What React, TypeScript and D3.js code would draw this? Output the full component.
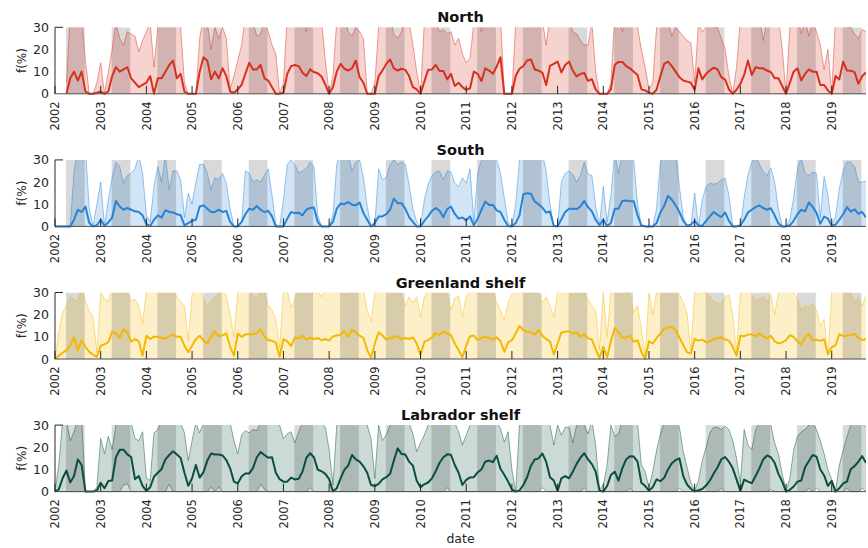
import React, { useEffect, useRef } from 'react';
import * as d3 from 'd3';

// monthly values, Jan 2002 .. Oct 2019 (one row per year)
const northMean = [
  null, null, null, 0, 7, 10, 6, 10, 1, 0, 0, 0.5,
  1, 0, 1, 8, 12, 10, 11, 12, 7, 5, 3, 4,
  5, 8, 0, 7, 7, 10, 13, 15, 7, 9, 1, 0,
  0, 0, 10, 16.5, 15, 6.5, 10, 7, 11.5, 8, 1, 0.5,
  2, 4, 9, 14, 11, 11, 13, 7, 6, 3, 0, 0,
  0.5, 9, 12.5, 13, 12.5, 9.5, 8, 11, 9.8, 9.3, 7.8, 4.2,
  0, 3, 10, 13.5, 11.3, 10.5, 11.5, 15, 7.5, 5, 0, 0,
  0, 8, 10.5, 13.5, 15.5, 11.5, 10.5, 11.3, 10.8, 8, 3, 2,
  0, 5.5, 10.8, 11, 13, 10.3, 10.3, 6.5, 9, 3.5, 5, 3,
  1.8, 2.5, 10, 9, 5.8, 11.5, 10.5, 9, 12.3, 16.5, 0, 0,
  0, 8, 11.3, 12.5, 15, 15.5, 11, 10.5, 9.6, 4, 12.6, 13.5,
  14.5, 9.6, 13, 14.5, 10.5, 7.8, 9, 9.4, 5.8, 6.6, 2, 0,
  0, 0, 2, 13, 14.4, 14.4, 12.5, 11.5, 10, 8.5, 2, 1.5,
  0.5, 0, 1.8, 8, 13.5, 14.5, 12.5, 10, 7.5, 6, 5.5, 5,
  1.8, 11.5, 6.5, 9, 10.5, 11.8, 11, 7.5, 6.4, 2, 0, 1.8,
  4.5, 8.5, 15, 8.5, 12, 11.5, 11.5, 10.5, 9.8, 7, 7, 3.5,
  0, 5, 10, 11.5, 6, 9, 11, 10, 10, 4, 4, 1.5,
  0, 8, 6.5, 14.5, 10.5, 10.4, 9.8, 4.5, 8, 9.6,
];
const northUpper = [
  null, null, null, 5, 35, 40, 40, 35, 15, 0, 0, 5,
  14, 0, 10, 20, 32, 25, 22, 28, 27, 26, 19, 24,
  28, 32, 12, 30, 33, 35, 35, 35, 35, 30, 5, 0,
  0, 0, 25, 35, 32, 20, 30, 25, 30, 25, 2, 8,
  15, 22, 35, 35, 32, 26, 27, 33, 28, 22, 18, 0,
  5, 35, 35, 35, 35, 35, 28, 35, 35, 35, 33, 15,
  0, 8, 33, 35, 35, 28, 26, 30, 28, 25, 0, 0,
  5, 30, 35, 35, 35, 27, 25, 28, 35, 32, 22, 10,
  0, 32, 35, 35, 32, 28, 29, 27, 28, 22, 25, 18,
  14, 16, 32, 35, 28, 35, 35, 30, 35, 35, 0, 0,
  0, 32, 35, 35, 35, 35, 35, 30, 33, 22, 35, 35,
  35, 35, 35, 35, 28, 27, 24, 22, 22, 32, 10, 0,
  0, 0, 5, 35, 35, 28, 33, 35, 35, 30, 20, 12,
  2, 5, 30, 35, 35, 33, 26, 30, 28, 26, 24, 23,
  5, 32, 28, 30, 33, 30, 30, 25, 20, 8, 0, 12,
  33, 35, 35, 35, 35, 35, 24, 33, 35, 35, 35, 20,
  0, 30, 35, 35, 27, 33, 26, 33, 28, 22, 11, 20,
  0, 35, 35, 35, 30, 30, 27, 25, 29, 28,
];

const southMean = [
  0, 0, 0, 0, 0, 3, 7.5, 6.5, 9, 1.5, 0, 0.5,
  3, 0.3, 1.8, 4, 11.5, 9, 7.5, 8.3, 7.5, 6.8, 6.5, 5,
  1, 0.2, 3, 5, 4, 7.3, 6.5, 6.3, 5.5, 5, 0.5, 1.5,
  2.5, 3, 9, 9.5, 8, 6.5, 6.5, 7.6, 6.5, 7, 2, 0,
  0, 2, 5.5, 8, 7.5, 9.2, 7.5, 6.5, 7, 4.5, 0, 0,
  0, 3.5, 6.5, 6, 6.2, 5, 7.5, 8.3, 8.5, 2, 0, 0,
  0, 2, 8, 10.3, 10, 11, 9.8, 9.5, 10.8, 6, 3, 0,
  1.5, 4.5, 4.5, 5.5, 7.5, 12.5, 10.5, 10.5, 8, 4.2, 2, 0,
  0, 2.5, 4.5, 7, 8.3, 7, 4.2, 7.8, 9, 5.6, 3.5, 4,
  2.7, 4.5, 0.5, 3.5, 7.5, 11.2, 9.7, 9.7, 7.2, 6.5, 3, 0.2,
  0, 1.5, 5, 14.5, 15, 14.7, 11.2, 10, 8.5, 6.2, 6.7, 0.3,
  0, 3.2, 6.5, 8, 8, 7.8, 9, 11.5, 8.7, 6.8, 3, 0.5,
  3, 0.2, 1.5, 8, 8, 11.5, 11.7, 11.4, 11.3, 5, 0.5, 0,
  0, 0, 1.5, 6.3, 9.3, 13.8, 12, 9.5, 6.5, 2.5, 0.3, 0.8,
  2.5, 0.5, 0.2, 2.5, 4.5, 6.5, 5.2, 4.2, 6.3, 2.5, 0, 0,
  0.5, 3, 6.3, 7.5, 8.7, 9.5, 8.3, 7.5, 8.2, 5, 1.3, 0,
  0, 0.5, 2.5, 5.5, 7.5, 6.8, 10.8, 8.8, 6, 1.2, 4.4, 3.5,
  0.3, 0.8, 3, 5.5, 8.7, 6.7, 7.7, 5.7, 6.5, 4,
];
const southUpper = [
  0, 0, 0, 0, 0, 25, 35, 35, 35, 8, 0, 10,
  20, 0, 12, 22, 29, 27, 19.5, 23, 24, 26, 32, 24,
  5, 2, 18, 27, 20, 32, 16.5, 25, 25, 21, 4, 15,
  10, 20, 28, 28, 24, 16.5, 22, 21, 24, 19.5, 8, 0,
  0, 2, 25, 24, 20, 21, 20, 23, 26, 14, 1, 0,
  12, 28, 30, 28, 24, 25, 26, 29, 27, 5, 0, 0,
  0, 5, 28, 35, 35, 33, 25, 29, 30, 22, 9, 0,
  1, 26, 21, 22, 28, 30, 28, 29, 28, 19, 8, 2,
  0, 12, 19, 23, 24.5, 25, 21, 25, 24.5, 19.5, 18, 22,
  19.5, 26, 2, 24, 30, 35, 35, 35, 30, 24, 13, 2,
  0, 10, 30, 35, 35, 35, 35, 35, 33, 25, 10, 0,
  0, 20, 24, 25, 23.5, 20, 23, 29, 23.5, 23, 9, 0.5,
  18, 2, 14, 33, 24, 33, 35, 35, 30, 10, 0.5, 0,
  0, 0, 8, 29, 35, 35, 35, 33, 18, 4.5, 0, 0,
  15, 0, 12, 18, 19.5, 19, 19.5, 21, 21.8, 14, 0.5, 0,
  0, 13, 23, 29, 32, 28, 24.8, 23, 26.5, 20, 8, 0,
  0, 3, 13, 26, 31, 24, 23, 24.5, 24, 4, 22.5, 14,
  0.3, 4.5, 17, 25, 29, 29, 27, 20, 20, 20.5,
];

const greenlandMean = [
  0, 1.5, 2.8, 4, 6, 10, 4, 8.5, 5.5, 3.2, 2, 1,
  6, 6.6, 7.6, 12.3, 11.5, 9.5, 13.5, 12, 7.8, 9, 8, 1.5,
  10.5, 9, 10.1, 9.9, 9.5, 9.3, 10.3, 11, 10, 10, 6, 3,
  6, 9, 10.5, 8.3, 7, 10, 12.5, 10.3, 10.7, 11.5, 5.5, 1.5,
  11.5, 10, 11.1, 11.3, 11.1, 11.6, 13.3, 10, 8.6, 8.2, 7.5, 1,
  9, 8, 5.8, 9.7, 9.3, 10.5, 8.8, 9.6, 9, 9.5, 8.4, 9,
  8.3, 10.2, 10.6, 11, 12.6, 10, 13.3, 12, 10.5, 9.5, 4, 0.5,
  7, 12, 10.6, 8.8, 9.3, 9.8, 10.4, 8.8, 9.5, 9, 9.7, 7,
  1.8, 7.8, 8.5, 9.7, 11.6, 10.8, 12.4, 11.5, 10.8, 7, 4, 0.8,
  6, 10.3, 10.6, 8.5, 9.5, 10, 9.6, 8.6, 9.8, 8, 3.2, 7.5,
  8.5, 11.5, 14.9, 13, 12.3, 12, 11, 13, 10.5, 9, 8, 2,
  7, 12, 12.3, 12.5, 11.5, 12, 10, 11.2, 9.3, 8.8, 4.3, 0.5,
  5.5, 0.8, 8, 14, 12, 9.5, 9.7, 10.5, 7.8, 8.5, 3.3, 0,
  8, 7, 9.5, 11.4, 13.6, 14.2, 14.5, 13, 9.7, 6.3, 3, 2.5,
  9, 8.3, 8.7, 7.6, 8, 9, 9.4, 9.8, 8.8, 8.3, 5.5, 1.5,
  10.5, 10.3, 11, 11, 10.2, 11.5, 10.2, 9.3, 10.5, 8, 7, 7.5,
  8.5, 10.7, 10, 8, 6.4, 9.8, 11.3, 8.3, 8.7, 8.2, 8.9, 2,
  5.3, 6.2, 11.2, 10.3, 10.6, 10.8, 11.3, 9.5, 8.5, 9,
];
const greenlandUpper = [
  0, 12, 21, 24, 28, 27, 26, 32, 26, 21.5, 19, 3,
  30, 27, 26, 32, 35, 35, 35, 30, 26, 27, 24, 16,
  31, 33, 35, 35, 35, 35, 33, 32, 28, 26, 24, 8,
  29, 32, 32, 27, 24.5, 26, 28, 30, 31, 28.5, 20, 10,
  30, 32, 33, 32, 28.5, 27.5, 31, 30, 24, 22, 18, 5,
  31, 31, 23, 27, 31, 32, 31, 31, 30, 31, 28, 31,
  32, 32, 31, 30, 29, 30, 32, 32, 32, 31, 22, 17,
  30, 32, 32, 32, 32, 32, 31, 29, 24, 28, 25.5, 28,
  19, 28, 31, 32, 32, 32, 31, 29, 22, 27.5, 28.5, 19,
  28, 31, 32, 29, 32, 32, 31, 30, 25.5, 22, 17.5, 25.5,
  29, 31, 32, 32, 29, 31, 30, 29.5, 25.5, 28, 24, 18.7,
  30, 32, 29, 31, 28.5, 31, 31, 30, 27, 24, 22, 4,
  30, 10, 30, 33, 32, 31, 30, 30, 21, 24, 14, 1,
  30, 20, 30, 32, 33, 32, 32, 32, 29, 25.5, 20.5, 4,
  30, 29, 30, 30, 28, 26, 25, 25, 28, 29, 20, 3,
  30, 32, 32, 29, 26.5, 27, 28, 26, 29, 20, 30, 31,
  32, 31, 30, 27, 22, 24, 23, 25, 22, 14.6, 18, 2,
  30, 31, 32, 32, 31, 30, 25.5, 28, 24, 29,
];

const labradorMean = [
  0, 1, 6, 9.5, 4.1, 7, 14.5, 12, 0, 0, 0, 0.5,
  4, 1.5, 4.8, 5, 15.5, 18.9, 18.9, 16.8, 15.6, 5.6, 7, 2.6,
  0.3, 2, 6.7, 8.5, 10.2, 14.5, 16.5, 18.2, 16.8, 15.2, 8.5, 2.6,
  6, 12, 6.3, 8.8, 14, 17.2, 16.7, 16.7, 16.3, 14.2, 10.5, 4.5,
  3.7, 6.8, 8.2, 8.2, 10.6, 15.5, 17.8, 16.5, 15.3, 15.5, 8.5, 5.6,
  4.5, 4.5, 6.3, 5.5, 5.8, 9, 15.2, 17.3, 15.5, 9.9, 9.2, 8,
  5.6, 0.1, 1.5, 6, 9.8, 11.7, 16.5, 14.5, 13.5, 11.4, 8.5, 3,
  2.5, 3.5, 5.5, 6.5, 8, 14, 19.5, 17, 16.7, 13.5, 11.7, 4.9,
  2, 3.3, 4.1, 6, 9.2, 13, 15.5, 16.8, 16.6, 12, 8.5, 3,
  5.3, 6.4, 6.5, 8.7, 10, 13.5, 14, 13.3, 16.2, 10.3, 7.6, 4.5,
  1, 0, 0.5, 3, 6.5, 11.7, 14.5, 15, 17.2, 13.5, 6.5, 5,
  0.3, 6, 7, 6, 9, 12.5, 15.3, 17.3, 14.5, 12.4, 9, 0.5,
  0, 2.5, 7.5, 9, 5, 10.5, 14.5, 16, 15.8, 13.5, 4, 2.5,
  0.5, 2, 5.5, 4.7, 6.2, 10, 12.8, 14.2, 15, 7, 3.2, 1.3,
  0.1, 0.6, 1.2, 2.7, 5, 8.2, 11, 14.5, 15.6, 13.5, 10.5, 5.5,
  0.3, 5.4, 4.5, 3.8, 7, 10.5, 14.5, 16.3, 15.5, 13, 8, 4.5,
  0, 0.8, 2.3, 4.5, 5, 11, 13.8, 16.5, 15.8, 10, 7.3, 2.6,
  4.8, 0, 1.5, 3.7, 4.5, 10.2, 11.5, 13.5, 16, 13,
];
const labradorUpper = [
  0, 12, 32, 32, 23, 27, 33, 33, 0, 0, 0, 2,
  24, 17, 25, 19, 30, 35, 35, 35, 31, 24, 23, 27,
  6, 5, 26.5, 28, 32, 35, 35, 35, 33, 31, 26.5, 14,
  23, 31, 26.5, 31, 33, 35, 35, 35, 35, 33, 31, 23,
  17, 25.5, 27.5, 26.5, 28, 27.5, 31, 33, 35, 33, 31, 30,
  24, 26, 27, 22, 27, 31, 33, 35, 35, 33, 31, 29,
  19, 3, 30, 32, 33, 35, 35, 35, 33, 31, 30, 24,
  6, 30, 23, 25.5, 30, 32, 35, 35, 33, 31, 26, 18,
  22, 25.5, 30, 32, 33, 35, 35, 35, 33, 31, 27, 21,
  25.5, 30, 32, 33, 33, 35, 35, 33, 31, 28.5, 22.4, 27,
  10, 0, 30, 32, 33, 35, 35, 35, 33, 31, 30, 21,
  30, 25.4, 29, 29, 22, 30, 32, 30, 26, 32, 21, 1,
  3, 12, 30, 25, 26, 32, 35, 35, 35, 31, 12, 9,
  2, 9, 18.6, 26, 31, 33, 33, 32, 29, 18, 11, 4,
  0.5, 5, 14, 20, 26.5, 29, 29, 28, 29.5, 28, 23, 15,
  4, 28, 21, 19, 28, 31, 32, 32, 30, 22, 17, 8,
  0.5, 6, 18.6, 25, 27, 28, 30, 31, 28, 23, 17, 10,
  5.5, 0.5, 12, 18.6, 24.7, 30, 32, 32, 31, 29,
];
const labradorLower = [
  0, 0, 0, 0, 0, 0, 0, 0, 0, 0, 0, 0,
  0, 0, 0, 0, 0, 0, 3, 3.5, 0, 0, 0, 0,
  0, 0, 0, 0, 0, 0, 3.3, 0, 0, 0, 0, 0,
  0, 0, 0, 0, 0, 2, 0, 2, 0, 0, 0, 0,
  0, 0, 0, 0, 0, 0, 3.3, 1, 0, 0, 0, 0,
  0, 0, 0, 0, 0, 0, 0, 1.8, 0, 0, 0, 0,
  0, 0, 0, 0, 0, 0, 0, 0, 0, 0, 0, 0,
  0, 0, 0, 0, 0, 0, 0, 0, 0, 0, 0, 0,
  0, 0, 0, 0, 0, 0, 0, 1.8, 0, 0, 0, 0,
  0, 0, 0, 0, 0, 0, 0, 0, 0, 0, 0, 0,
  0, 0, 0, 0, 0, 0, 0, 0, 1.8, 0, 0, 0,
  0, 0, 0, 0, 0, 0, 0, 1.8, 0, 0, 0, 0,
  0, 0, 0, 0, 0, 0, 0, 1.5, 0, 0, 0, 0,
  0, 0, 0, 0, 0, 0, 0, 0, 1.5, 0, 0, 0,
  0, 0, 0, 0, 0, 0, 0, 1.5, 0, 0, 0, 0,
  0, 0, 0, 0, 0, 0, 0, 0, 1, 0, 0, 0,
  0, 0, 0, 0, 0, 0, 1.5, 0, 1.5, 0, 0, 0,
  0, 0, 0, 0, 1.5, 0, 0, 0, 1.5, 0,
];

const yearTicks = d3.range(2002, 2020);
const yTicks = [0, 10, 20, 30];
// shaded season (grey band) in each year, as fraction of year
const seasonFrom = 0.24;
const seasonTo = 0.65;

const panels = [
  { title: 'North', color: '#d7301f', mean: northMean, upper: northUpper, lower: null },
  { title: 'South', color: '#2684d8', mean: southMean, upper: southUpper, lower: null },
  { title: 'Greenland shelf', color: '#f4b800', mean: greenlandMean, upper: greenlandUpper, lower: null },
  { title: 'Labrador shelf', color: '#0a4f3d', mean: labradorMean, upper: labradorUpper, lower: labradorLower },
];

const FONT = '"DejaVu Sans", sans-serif';
const TXT = '#262626';

export default function App() {
  const svgRef = useRef<SVGSVGElement>(null);

  useEffect(() => {
    const svg = d3.select(svgRef.current);
    svg.selectAll('*').remove();

    const left = 55, right = 866;
    const x = d3.scaleLinear().domain([2002, 2019.75]).range([left, right]);
    const t = d3.range(northMean.length).map(i => 2002 + i / 12);

    panels.forEach((p, k) => {
      const top = 27.3 + k * 132.6;
      const bottom = top + 66.5;
      const y = d3.scaleLinear().domain([0, 30]).range([bottom, top]);
      const g = svg.append('g');

      const clipId = `clip-${k}`;
      svg.append('clipPath').attr('id', clipId)
        .append('rect')
        .attr('x', left).attr('y', top)
        .attr('width', right - left).attr('height', bottom - top + 1.5);

      const plot = g.append('g').attr('clip-path', `url(#${clipId})`);
      const idx = d3.range(p.mean.length);
      const ok = (i: number) => p.mean[i] != null && p.upper[i] != null;
      const lo = (i: number) => (p.lower ? p.lower[i] : 0);

      // uncertainty band
      plot.append('path')
        .datum(idx)
        .attr('d', d3.area<number>().defined(ok)
          .x(i => x(t[i]))
          .y0(i => y(lo(i)))
          .y1(i => y(p.upper[i] as number)))
        .attr('fill', p.color)
        .attr('fill-opacity', 0.21);

      // grey seasonal bands
      plot.selectAll('rect.season')
        .data(yearTicks)
        .join('rect')
        .attr('class', 'season')
        .attr('x', d => x(d + seasonFrom))
        .attr('width', d => x(d + seasonTo) - x(d + seasonFrom))
        .attr('y', top)
        .attr('height', bottom - top)
        .attr('fill', '#000')
        .attr('fill-opacity', 0.15);

      const line = (acc: (i: number) => number) =>
        d3.line<number>().defined(ok).x(i => x(t[i])).y(i => y(acc(i)));

      plot.append('path')
        .datum(idx)
        .attr('d', line(i => p.upper[i] as number))
        .attr('fill', 'none')
        .attr('stroke', p.color)
        .attr('stroke-opacity', 0.65)
        .attr('stroke-width', 0.7);

      if (p.lower) {
        plot.append('path')
          .datum(idx)
          .attr('d', line(i => lo(i)))
          .attr('fill', 'none')
          .attr('stroke', p.color)
          .attr('stroke-opacity', 0.65)
          .attr('stroke-width', 0.7);
      }

      plot.append('path')
        .datum(idx)
        .attr('d', line(i => p.mean[i] as number))
        .attr('fill', 'none')
        .attr('stroke', p.color)
        .attr('stroke-width', 2)
        .attr('stroke-linejoin', 'round');

      // axes
      g.append('line')
        .attr('x1', left).attr('x2', left).attr('y1', top).attr('y2', bottom)
        .attr('stroke', TXT).attr('stroke-width', 1);
      g.append('line')
        .attr('x1', left).attr('x2', right).attr('y1', bottom).attr('y2', bottom)
        .attr('stroke', '#4d4d4d').attr('stroke-width', 1);
      g.append('line')
        .attr('x1', left).attr('x2', left + 8).attr('y1', top).attr('y2', top)
        .attr('stroke', TXT).attr('stroke-width', 1);

      g.selectAll('line.xtick')
        .data(yearTicks)
        .join('line')
        .attr('class', 'xtick')
        .attr('x1', d => x(d)).attr('x2', d => x(d))
        .attr('y1', bottom).attr('y2', bottom - 8)
        .attr('stroke', TXT).attr('stroke-width', 1);

      g.selectAll('text.ytick')
        .data(yTicks)
        .join('text')
        .attr('class', 'ytick')
        .attr('x', left - 6)
        .attr('y', d => y(d))
        .attr('dy', '0.36em')
        .attr('text-anchor', 'end')
        .attr('font-family', FONT)
        .attr('font-size', 12.5)
        .attr('fill', TXT)
        .text(d => d);

      g.selectAll('text.xtick')
        .data(yearTicks)
        .join('text')
        .attr('class', 'xtick')
        .attr('transform', d => `translate(${x(d)},${bottom + 7.5}) rotate(-90)`)
        .attr('dy', '0.36em')
        .attr('text-anchor', 'end')
        .attr('font-family', FONT)
        .attr('font-size', 11.5)
        .attr('fill', TXT)
        .text(d => d);

      g.append('text')
        .attr('transform', `translate(21.5,${(top + bottom) / 2}) rotate(-90)`)
        .attr('dy', '0.36em')
        .attr('text-anchor', 'middle')
        .attr('font-family', FONT)
        .attr('font-size', 12)
        .attr('fill', TXT)
        .text('f(%)');

      g.append('text')
        .attr('x', (left + right) / 2)
        .attr('y', top - 5)
        .attr('text-anchor', 'middle')
        .attr('font-family', FONT)
        .attr('font-weight', 'bold')
        .attr('font-size', 14.5)
        .attr('fill', '#111')
        .text(p.title);
    });

    svg.append('text')
      .attr('x', (left + right) / 2)
      .attr('y', 543)
      .attr('text-anchor', 'middle')
      .attr('font-family', FONT)
      .attr('font-size', 12.5)
      .attr('fill', TXT)
      .text('date');
  }, []);

  return (
    <svg
      ref={svgRef}
      width={868}
      height={548}
      style={{ position: 'absolute', left: 0, top: 0, background: '#fff' }}
    />
  );
}
